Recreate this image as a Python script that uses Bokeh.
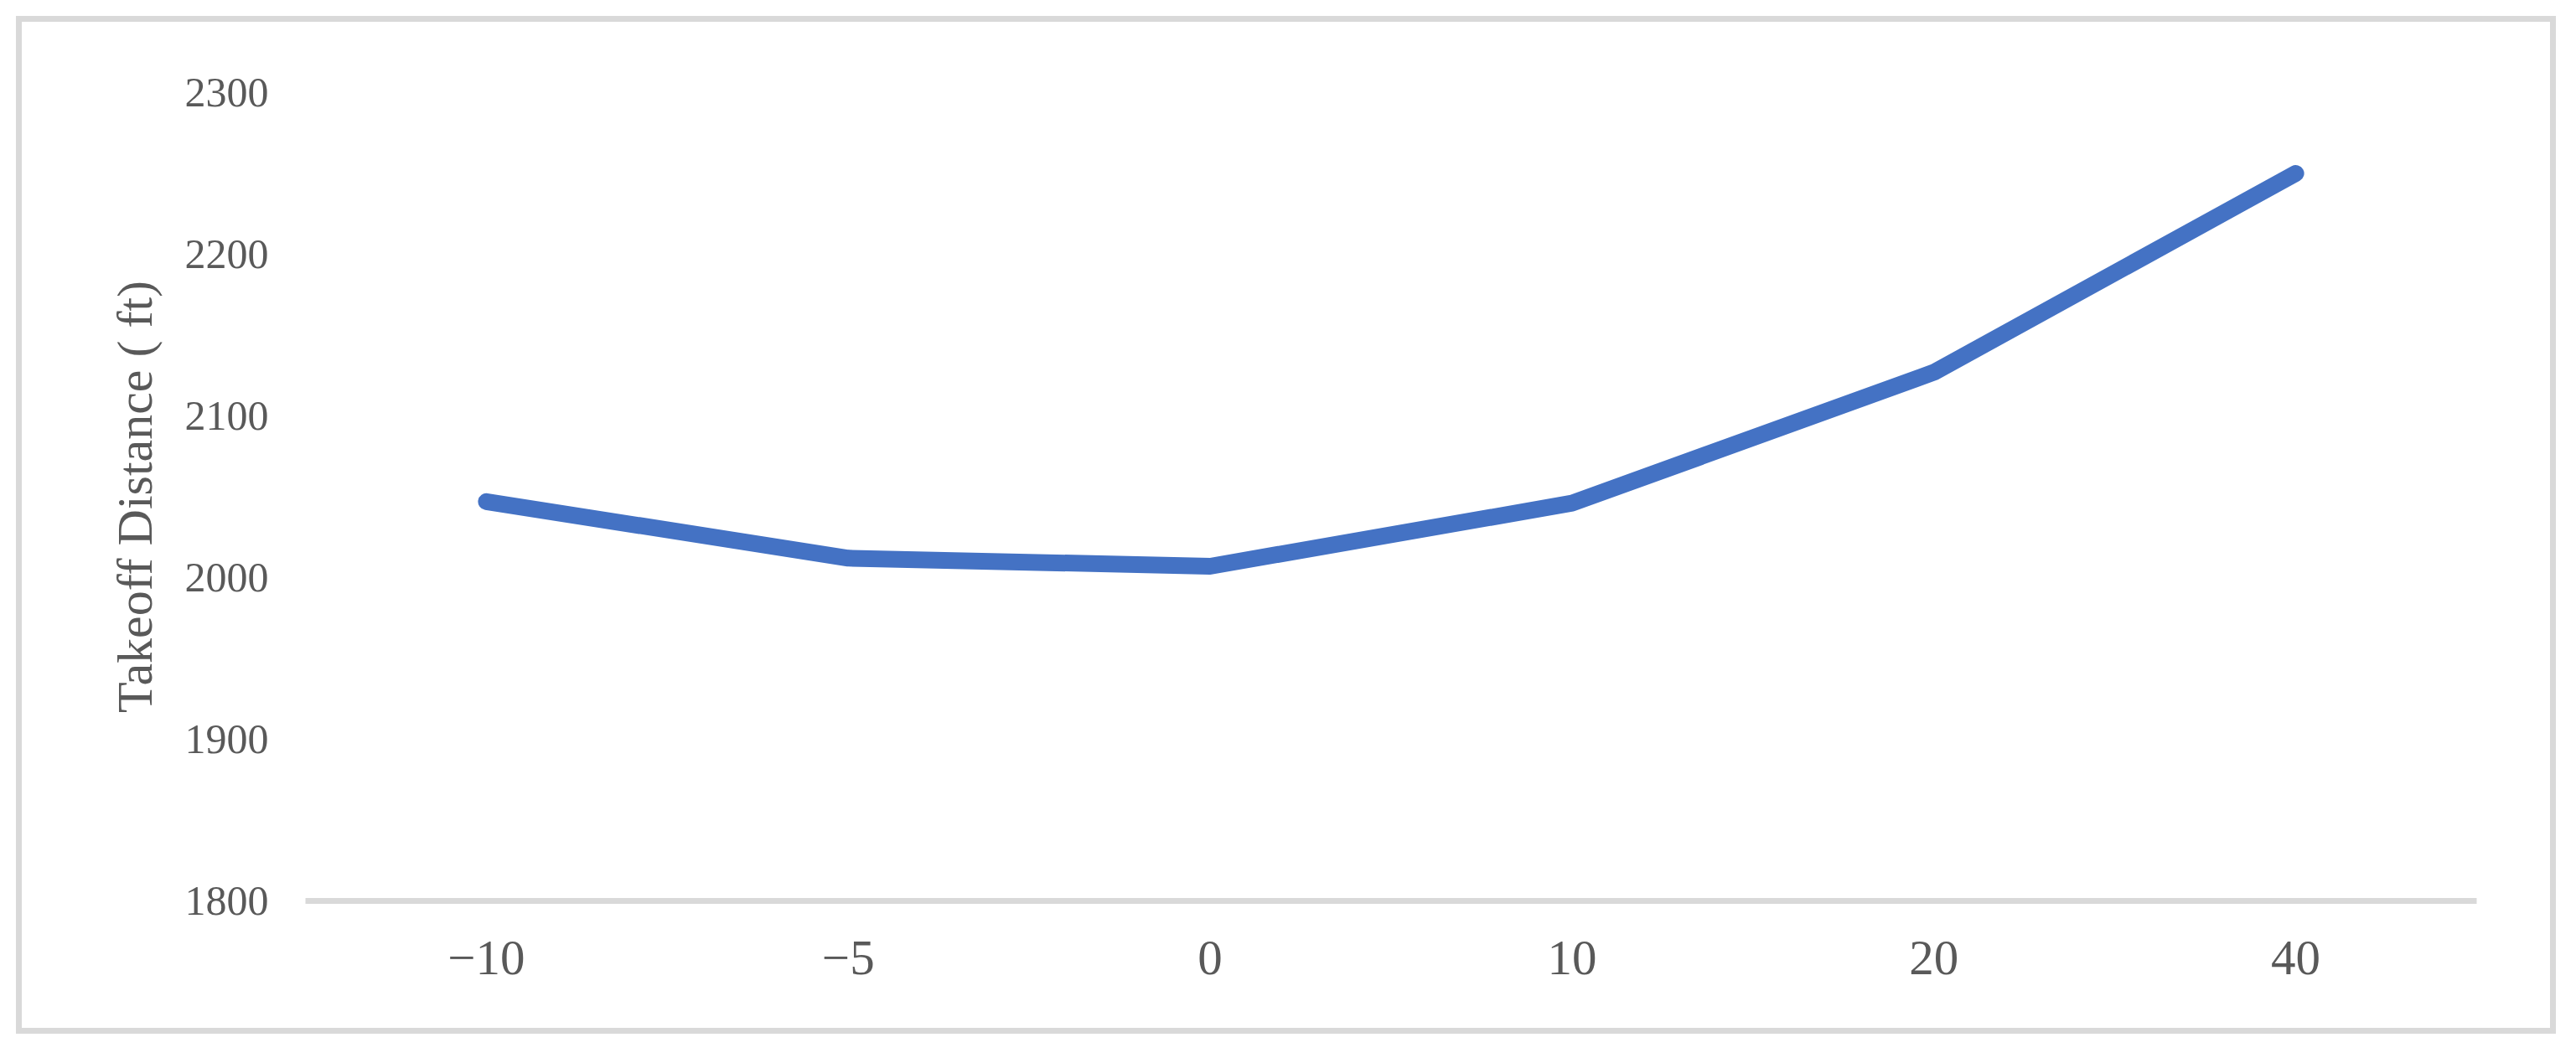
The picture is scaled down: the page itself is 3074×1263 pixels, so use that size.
from bokeh.plotting import figure
from bokeh.models import Range1d, FactorRange
from bokeh.embed import file_html
from bokeh.resources import INLINE

# Data
temps = ["\u221210", "\u22125", "0", "10", "20", "40"]
takeoff_ft = [2047, 2012, 2007, 2046, 2127, 2250]
y_ticks = [1800, 1900, 2000, 2100, 2200, 2300]

TEXT = "#595959"
GRID = "#D9D9D9"
FONT = "Liberation Serif"

W, H = 3069, 1253
p = figure(
    width=W, height=H,
    x_range=FactorRange(*temps),
    y_range=Range1d(1800, 2300),
    output_backend="svg", toolbar_location=None,
    min_border_left=364, min_border_right=114,
    min_border_top=110, min_border_bottom=178,
)
p.background_fill_alpha = 0
p.border_fill_alpha = 0
p.outline_line_color = None
p.xgrid.grid_line_color = None
p.ygrid.grid_line_color = None

p.line(x=temps, y=takeoff_ft, line_color="#4472C4", line_width=20,
       line_cap="round", line_join="round")

# x axis
xa = p.xaxis[0]
xa.axis_line_color = GRID
xa.axis_line_width = 7
xa.major_tick_line_color = None
xa.minor_tick_line_color = None
xa.major_tick_out = 0
xa.major_tick_in = 0
xa.major_label_text_font = FONT
xa.major_label_text_font_size = "59px"
xa.major_label_text_color = TEXT
xa.major_label_standoff = 48

# y axis
ya = p.yaxis[0]
ya.ticker = y_ticks
ya.axis_line_color = None
ya.major_tick_line_color = None
ya.minor_tick_line_color = None
ya.major_tick_out = 0
ya.major_tick_in = 0
ya.major_label_text_font = FONT
ya.major_label_text_font_size = "50px"
ya.major_label_text_color = TEXT
ya.major_label_standoff = 44
ya.axis_label = "Takeoff Distance ( ft)"
ya.axis_label_text_font = FONT
ya.axis_label_text_font_size = "60px"
ya.axis_label_text_font_style = "normal"
ya.axis_label_text_color = TEXT
ya.axis_label_standoff = 24

# chart border (outer light-grey frame around the whole chart)
p.styles = {"outline": "7.5px solid #D9D9D9", "outline-offset": "-26.5px"}

open("out.html", "w").write(file_html(p, INLINE))
